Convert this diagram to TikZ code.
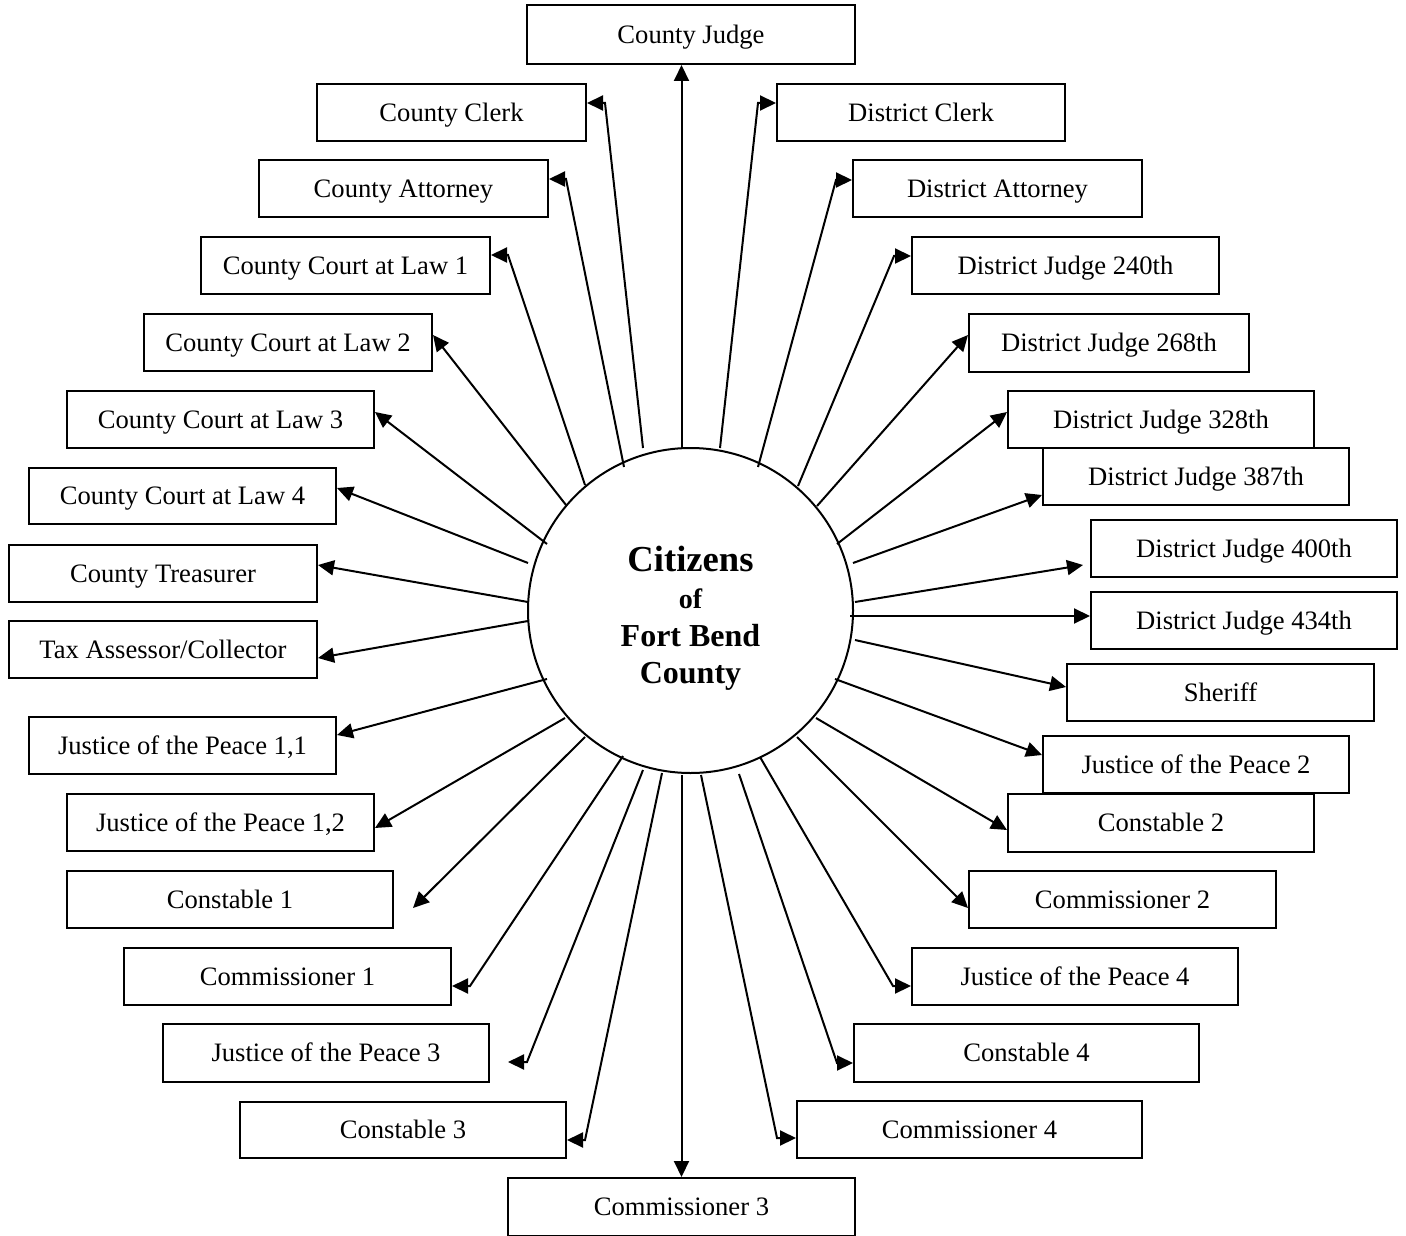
\documentclass[tikz,border=0pt]{standalone}
\usepackage{fontspec}
\setmainfont{Liberation Serif}
\usetikzlibrary{arrows.meta}
\newcommand\bx[6]{\node[box, minimum width={(#4-#2)*0.5pt}, minimum height={(#5-#3)*0.5pt}] (#1) at ({(#2+#4)/2},{(#3+#5)/2}) {#6};}
\begin{document}
\begin{tikzpicture}[x=0.5pt,y=-0.5pt,
  box/.style={draw, line width=1pt, fill=white, inner sep=0pt, text height=11.8pt, text depth=3pt, font=\fontsize{13.3}{16}\selectfont},
  conn/.style={line width=1pt, -{Triangle[length=8pt,width=7.5pt]}},
  cittxt/.style={anchor=base, inner sep=0pt}]
\useasboundingbox (0,0) rectangle (1406,1235);
% central circle
\node[draw, circle, line width=1pt, minimum size=162.5pt, inner sep=0pt] (cit) at (690.5,610.5) {};
\node[cittxt, font=\bfseries\fontsize{18.3}{20}\selectfont] (t1) at (690.5,571) {Citizens};
\node[cittxt, font=\bfseries\fontsize{14}{16}\selectfont] (t2) at (690.5,608) {of};
\node[cittxt, font=\bfseries\fontsize{16}{18}\selectfont] (t3) at (690.5,646) {Fort Bend};
\node[cittxt, font=\bfseries\fontsize{16}{18}\selectfont] (t4) at (690.5,683) {County};
% boxes
\bx{jud}{527}{5}{855}{64}{County Judge}
\bx{ccl}{317}{84}{586}{141}{County Clerk}
\bx{dcl}{777}{84}{1065}{141}{District Clerk}
\bx{cat}{259}{160}{548}{217}{County Attorney}
\bx{dat}{853}{160}{1142}{217}{District Attorney}
\bx{l1}{201}{237}{490}{294}{County Court at Law 1}
\bx{d240}{912}{237}{1219}{294}{District Judge 240th}
\bx{l2}{144}{314}{432}{371}{County Court at Law 2}
\bx{d268}{969}{314}{1249}{372}{District Judge 268th}
\bx{l3}{67}{391}{374}{448}{County Court at Law 3}
\bx{d328}{1008}{391}{1314}{448}{District Judge 328th}
\bx{d387}{1043}{448}{1349}{505}{District Judge 387th}
\bx{l4}{29}{468}{336}{524}{County Court at Law 4}
\bx{tre}{9}{545}{317}{602}{County Treasurer}
\bx{d400}{1091}{520}{1397}{577}{District Judge 400th}
\bx{tax}{9}{621}{317}{678}{Tax Assessor/Collector}
\bx{d434}{1091}{592}{1397}{649}{District Judge 434th}
\bx{she}{1067}{664}{1374}{721}{Sheriff}
\bx{jp11}{29}{717}{336}{774}{Justice of the Peace 1,1}
\bx{jp2}{1043}{736}{1349}{793}{Justice of the Peace 2}
\bx{jp12}{67}{794}{374}{851}{Justice of the Peace 1,2}
\bx{co2}{1008}{794}{1314}{852}{Constable 2}
\bx{co1}{67}{871}{393}{928}{Constable 1}
\bx{cm2}{969}{871}{1276}{928}{Commissioner 2}
\bx{cm1}{124}{948}{451}{1005}{Commissioner 1}
\bx{jp4}{912}{948}{1238}{1005}{Justice of the Peace 4}
\bx{jp3}{163}{1024}{489}{1082}{Justice of the Peace 3}
\bx{co4}{854}{1024}{1199}{1082}{Constable 4}
\bx{co3}{240}{1102}{566}{1158}{Constable 3}
\bx{cm4}{797}{1101}{1142}{1158}{Commissioner 4}
\bx{cm3}{508}{1178}{855}{1236}{Commissioner 3}
% connectors
\draw[conn] (681.5,448) -- (681.5,0 |- jud.south);
\draw[conn] (643,448) -- (605,103) -- (ccl.east |- 0,103);
\draw[conn] (720,448) -- (758,103) -- (dcl.west |- 0,103);
\draw[conn] (624,467) -- (566,179) -- (cat.east |- 0,179);
\draw[conn] (758,467) -- (836,180) -- (dat.west |- 0,180);
\draw[conn] (585,485) -- (508,255) -- (l1.east |- 0,255);
\draw[conn] (798,486) -- (894,256) -- (d240.west |- 0,256);
\draw[conn] (566,505) -- (l2.east |- 0,335);
\draw[conn] (817,506) -- (d268.west |- 0,335);
\draw[conn] (547,544) -- (l3.east |- 0,412);
\draw[conn] (837,544) -- (d328.west |- 0,412);
\draw[conn] (528,563) -- (l4.east |- 0,488);
\draw[conn] (853,563) -- (d387.west |- 0,495);
\draw[conn] (528,602) -- (tre.east |- 0,565);
\coordinate (e400) at (1083,565);
\draw[conn] (855,602) -- (e400);
\draw[conn] (528,621) -- (tax.east |- 0,658);
\draw[conn] (850,616) -- (d434.west |- 0,616);
\draw[conn] (855,640) -- (she.west |- 0,687);
\draw[conn] (547,679) -- (jp11.east |- 0,735);
\draw[conn] (835,679) -- (jp2.west |- 0,755);
\draw[conn] (565,718) -- (jp12.east |- 0,828);
\draw[conn] (816,718) -- (co2.west |- 0,830);
\coordinate (eco1) at (413,908);
\draw[conn] (585,737) -- (eco1);
\draw[conn] (797,737) -- (cm2.west |- 0,908);
\draw[conn] (623,756) -- (470,986) -- (cm1.east |- 0,986);
\draw[conn] (760,757) -- (893,986) -- (jp4.west |- 0,986);
\coordinate (ejp3) at (508,1062);
\draw[conn] (643,770) -- (527,1062) -- (ejp3);
\draw[conn] (739,774) -- (837,1063) -- (co4.west |- 0,1063);
\draw[conn] (662,773) -- (585,1140) -- (co3.east |- 0,1140);
\draw[conn] (701,775) -- (777,1138) -- (cm4.west |- 0,1138);
\draw[conn] (681.5,775) -- (681.5,0 |- cm3.north);
\end{tikzpicture}
\end{document}
